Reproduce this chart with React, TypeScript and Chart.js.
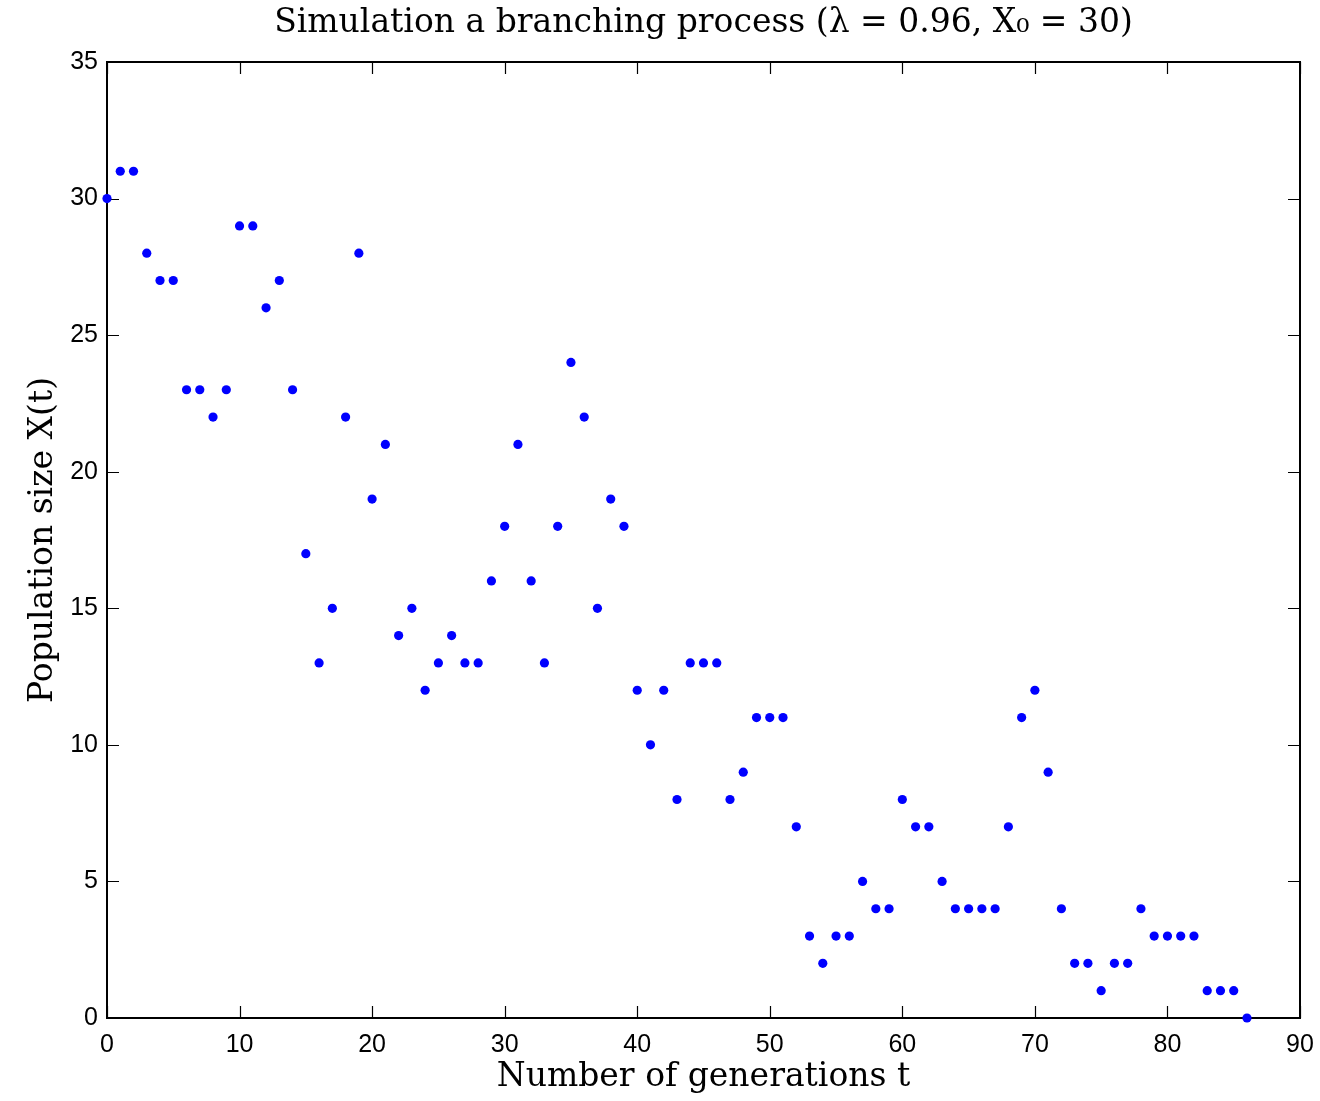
import React, { useEffect, useRef } from "react";
import { Chart, registerables } from "chart.js";

Chart.register(...registerables);

const generations: number[] = Array.from({ length: 87 }, (_, i) => i);
const population: number[] = [
  30, 31, 31, 28, 27, 27, 23, 23, 22, 23,
  29, 29, 26, 27, 23, 17, 13, 15, 22, 28,
  19, 21, 14, 15, 12, 13, 14, 13, 13, 16,
  18, 21, 16, 13, 18, 24, 22, 15, 19, 18,
  12, 10, 12, 8, 13, 13, 13, 8, 9, 11,
  11, 11, 7, 3, 2, 3, 3, 5, 4, 4,
  8, 7, 7, 5, 4, 4, 4, 4, 7, 11,
  12, 9, 4, 2, 2, 1, 2, 2, 4, 3,
  3, 3, 3, 1, 1, 1, 0,
];
const xTicks: number[] = [0, 10, 20, 30, 40, 50, 60, 70, 80, 90];
const yTicks: number[] = [0, 5, 10, 15, 20, 25, 30, 35];

const titleText = "Simulation a branching process (\u03bb = 0.96, X\u2080 = 30)";
const xLabel = "Number of generations t";
const yLabel = "Population size X(t)";

const framePlugin = {
  id: "matlabFrame",
  beforeDatasetsDraw(chart: any) {
    const { ctx, chartArea } = chart;
    const { left, right, top, bottom } = chartArea;
    const xs = chart.scales.x;
    const ys = chart.scales.y;
    const tl = 12;
    ctx.save();
    ctx.strokeStyle = "#000";
    ctx.lineWidth = 1.2;
    ctx.beginPath();
    xTicks.forEach((v) => {
      const px = Math.round(xs.getPixelForValue(v)) + 0.5;
      ctx.moveTo(px, bottom);
      ctx.lineTo(px, bottom - tl);
      ctx.moveTo(px, top);
      ctx.lineTo(px, top + tl);
    });
    yTicks.forEach((v) => {
      const py = Math.round(ys.getPixelForValue(v)) + 0.5;
      ctx.moveTo(left, py);
      ctx.lineTo(left + tl, py);
      ctx.moveTo(right, py);
      ctx.lineTo(right - tl, py);
    });
    ctx.stroke();
    ctx.lineWidth = 2;
    ctx.strokeRect(left, top, right - left, bottom - top);
    ctx.restore();
  },
};

export default function App() {
  const ref = useRef<HTMLCanvasElement | null>(null);
  useEffect(() => {
    document.body.style.margin = "0";
    const canvas = ref.current;
    if (!canvas) return;
    const chart = new Chart(canvas, {
      type: "scatter",
      data: {
        datasets: [
          {
            data: generations.map((t, i) => ({ x: t, y: population[i] })),
            backgroundColor: "#0000ff",
            borderWidth: 0,
            pointRadius: 4.6,
            clip: false as any,
          },
        ],
      },
      options: {
        responsive: false,
        animation: false,
        layout: { padding: { left: 0, right: 20, top: 0, bottom: 0 } },
        plugins: {
          legend: { display: false },
          tooltip: { enabled: false },
          title: {
            display: true,
            text: titleText,
            fullSize: false,
            color: "#000",
            font: { family: "'DejaVu Serif', serif", size: 33, weight: "normal" },
            padding: { top: 3.2, bottom: 19.2 },
          },
        },
        scales: {
          x: {
            type: "linear",
            min: 0,
            max: 90,
            grid: { display: false, drawTicks: false },
            border: { display: false },
            afterBuildTicks: (s: any) => {
              s.ticks = xTicks.map((v) => ({ value: v }));
            },
            ticks: {
              color: "#000",
              padding: 12,
              maxRotation: 0,
              font: { family: "'Liberation Sans', Arial, sans-serif", size: 25 },
            },
            title: {
              display: true,
              text: xLabel,
              color: "#000",
              font: { family: "'DejaVu Serif', serif", size: 33 },
              padding: { top: 0, bottom: 4.2 },
            },
            afterFit: (s: any) => {
              s.height = 83;
              s.paddingLeft = 0;
              s.paddingRight = 0;
            },
          },
          y: {
            type: "linear",
            min: 0,
            max: 35,
            grid: { display: false, drawTicks: false },
            border: { display: false },
            afterBuildTicks: (s: any) => {
              s.ticks = yTicks.map((v) => ({ value: v }));
            },
            ticks: {
              color: "#000",
              padding: 9,
              font: { family: "'Liberation Sans', Arial, sans-serif", size: 25 },
            },
            title: {
              display: true,
              text: yLabel,
              color: "#000",
              font: { family: "'DejaVu Serif', serif", size: 33 },
              padding: { top: 23.2, bottom: 0 },
            },
            afterFit: (s: any) => {
              s.width = 107;
              s.paddingTop = 0;
              s.paddingBottom = 0;
            },
          },
        },
      },
      plugins: [framePlugin],
    });
    return () => chart.destroy();
  }, []);
  return (
    <div style={{ width: 1320, height: 1101, background: "#fff" }}>
      <canvas ref={ref} width={1320} height={1101} style={{ display: "block" }} />
    </div>
  );
}
